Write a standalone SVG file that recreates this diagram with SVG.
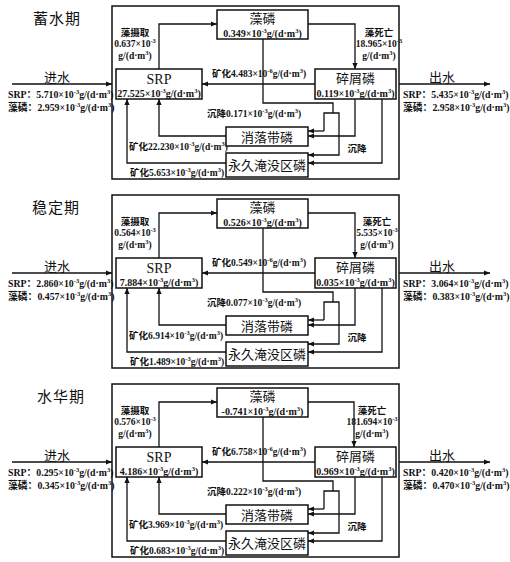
<svg xmlns="http://www.w3.org/2000/svg" width="510" height="562" viewBox="0 0 510 562">
<defs>
<marker id="ah" markerWidth="6" markerHeight="6" refX="6" refY="3" orient="auto" markerUnits="userSpaceOnUse"><path d="M0,0.4 L6,3 L0,5.6 z" fill="#111"/></marker>
</defs>
<style>
text{font-family:"Liberation Serif","Noto Sans CJK SC",serif;fill:#111}
.v{font-size:10px;font-weight:bold;text-anchor:middle}
.s{font-size:9.8px;font-weight:bold}
.f{font-size:9.5px;font-weight:bold}
.fm{font-size:9.5px;font-weight:bold;text-anchor:middle}
.sup{font-size:6.5px}
.t{font-family:"Noto Sans CJK SC",sans-serif;font-size:15px;letter-spacing:1px}
.n{font-family:"Noto Sans CJK SC",sans-serif;font-size:13px;text-anchor:middle}
.srp{font-family:"Liberation Serif",serif;font-size:14px;text-anchor:middle}
.io{font-family:"Noto Sans CJK SC",sans-serif;font-size:13px;text-anchor:middle}
.box{fill:#fff;stroke:#111;stroke-width:1.5}
.frame{fill:none;stroke:#111;stroke-width:1.5}
.c{fill:none;stroke:#111;stroke-width:1.3}
.a{marker-end:url(#ah)}
</style>
<rect width="510" height="562" fill="#fff"/>

<!-- Panel 1 -->
<g id="p1">
<text class="t" x="33" y="24">蓄水期</text>
<rect class="frame" x="112" y="6" width="287" height="173"/>
<g id="p1-connectors">
<path class="c a" d="M12,84 H112"/>
<path class="c a" d="M159,69 V24 H217"/>
<path class="c a" d="M308,24 H355 V69"/>
<path class="c a" d="M315,84 H202"/>
<path class="c" d="M263,39 V103 H333 V113"/>
<path class="c a" d="M324,131 V113 H339 V155 H308"/>
<path class="c a" d="M324,131 H308"/>
<path class="c a" d="M355,99 V136 H308"/>
<path class="c a" d="M382,99 V163 H308"/>
<path class="c a" d="M226,136 H159 V99"/>
<path class="c a" d="M226,163 H127 V99"/>
<path class="c a" d="M399,84 H490"/>
</g>
<g id="p1-labels">
<text class="io" x="57" y="82">进水</text>
<text class="s" x="8" y="98">SRP：5.710×10<tspan class="sup" dy="-4">-3</tspan><tspan dy="4">g/(d·m</tspan><tspan class="sup" dy="-4">3</tspan><tspan dy="4">)</tspan></text>
<text class="s" x="8" y="111">藻磷：2.959×10<tspan class="sup" dy="-4">-3</tspan><tspan dy="4">g/(d·m</tspan><tspan class="sup" dy="-4">3</tspan><tspan dy="4">)</tspan></text>
<text class="io" x="442" y="82">出水</text>
<text class="s" x="403" y="98">SRP：5.435×10<tspan class="sup" dy="-4">-3</tspan><tspan dy="4">g/(d·m</tspan><tspan class="sup" dy="-4">3</tspan><tspan dy="4">)</tspan></text>
<text class="s" x="403" y="111">藻磷：2.958×10<tspan class="sup" dy="-4">-3</tspan><tspan dy="4">g/(d·m</tspan><tspan class="sup" dy="-4">3</tspan><tspan dy="4">)</tspan></text>
<text class="fm" x="135" y="35.5">藻摄取</text>
<text class="fm" x="135" y="46.5">0.637×10<tspan class="sup" dy="-4">-3</tspan></text>
<text class="fm" x="135" y="58.5">g/(d·m<tspan class="sup" dy="-4">3</tspan><tspan dy="4">)</tspan></text>
<text class="fm" x="379" y="35.5">藻死亡</text>
<text class="fm" x="379" y="46.5">18.965×10<tspan class="sup" dy="-4">-3</tspan></text>
<text class="fm" x="379" y="58.5">g/(d·m<tspan class="sup" dy="-4">3</tspan><tspan dy="4">)</tspan></text>
<text class="f" x="212" y="76.5">矿化4.483×10<tspan class="sup" dy="-4">-6</tspan><tspan dy="4">g/(d·m</tspan><tspan class="sup" dy="-4">3</tspan><tspan dy="4">)</tspan></text>
<text class="f" x="207" y="116.5">沉降0.171×10<tspan class="sup" dy="-4">-3</tspan><tspan dy="4">g/(d·m</tspan><tspan class="sup" dy="-4">3</tspan><tspan dy="4">)</tspan></text>
<text class="f" x="129" y="149.5">矿化22.230×10<tspan class="sup" dy="-4">-3</tspan><tspan dy="4">g/(d·m</tspan><tspan class="sup" dy="-4">3</tspan><tspan dy="4">)</tspan></text>
<text class="f" x="130" y="175.5">矿化5.653×10<tspan class="sup" dy="-4">-3</tspan><tspan dy="4">g/(d·m</tspan><tspan class="sup" dy="-4">3</tspan><tspan dy="4">)</tspan></text>
<text class="fm" x="357" y="151.5">沉降</text>
</g>
<g id="p1-srp"><rect class="box" x="116" y="69" width="86" height="30"/><text class="srp" x="159" y="84">SRP</text><text class="v" x="159" y="97">27.525×10<tspan class="sup" dy="-4">-3</tspan><tspan dy="4">g/(d·m</tspan><tspan class="sup" dy="-4">3</tspan><tspan dy="4">)</tspan></text></g>
<g id="p1-algae"><rect class="box" x="217" y="10" width="91" height="29"/><text class="n" x="262.5" y="23">藻磷</text><text class="v" x="262.5" y="36.5">0.349×10<tspan class="sup" dy="-4">-3</tspan><tspan dy="4">g/(d·m</tspan><tspan class="sup" dy="-4">3</tspan><tspan dy="4">)</tspan></text></g>
<g id="p1-detritus"><rect class="box" x="315" y="69" width="81" height="30"/><text class="n" x="355.5" y="83">碎屑磷</text><text class="v" x="355.5" y="97">0.119×10<tspan class="sup" dy="-4">-3</tspan><tspan dy="4">g/(d·m</tspan><tspan class="sup" dy="-4">3</tspan><tspan dy="4">)</tspan></text></g>
<g id="p1-drawdown"><rect class="box" x="226" y="127" width="82" height="19"/><text class="n" x="267" y="141.5">消落带磷</text></g>
<g id="p1-submerged"><rect class="box" x="226" y="153" width="82" height="24"/><text class="n" x="267" y="169.5">永久淹没区磷</text></g>
</g>

<!-- Panel 2 -->
<g id="p2" transform="translate(0,189)">
<text class="t" x="32" y="24">稳定期</text>
<rect class="frame" x="112" y="6" width="287" height="173"/>
<g id="p2-connectors">
<path class="c a" d="M12,84 H112"/>
<path class="c a" d="M159,69 V24 H217"/>
<path class="c a" d="M308,24 H355 V69"/>
<path class="c a" d="M315,84 H202"/>
<path class="c" d="M263,39 V103 H333 V113"/>
<path class="c a" d="M324,131 V113 H339 V155 H308"/>
<path class="c a" d="M324,131 H308"/>
<path class="c a" d="M355,99 V136 H308"/>
<path class="c a" d="M382,99 V163 H308"/>
<path class="c a" d="M226,136 H159 V99"/>
<path class="c a" d="M226,163 H127 V99"/>
<path class="c a" d="M399,84 H490"/>
</g>
<g id="p2-labels">
<text class="io" x="57" y="82">进水</text>
<text class="s" x="8" y="98">SRP：2.860×10<tspan class="sup" dy="-4">-3</tspan><tspan dy="4">g/(d·m</tspan><tspan class="sup" dy="-4">3</tspan><tspan dy="4">)</tspan></text>
<text class="s" x="8" y="111">藻磷：0.457×10<tspan class="sup" dy="-4">-3</tspan><tspan dy="4">g/(d·m</tspan><tspan class="sup" dy="-4">3</tspan><tspan dy="4">)</tspan></text>
<text class="io" x="442" y="82">出水</text>
<text class="s" x="403" y="98">SRP：3.064×10<tspan class="sup" dy="-4">-3</tspan><tspan dy="4">g/(d·m</tspan><tspan class="sup" dy="-4">3</tspan><tspan dy="4">)</tspan></text>
<text class="s" x="403" y="111">藻磷：0.383×10<tspan class="sup" dy="-4">-3</tspan><tspan dy="4">g/(d·m</tspan><tspan class="sup" dy="-4">3</tspan><tspan dy="4">)</tspan></text>
<text class="fm" x="135" y="35.5">藻摄取</text>
<text class="fm" x="135" y="46.5">0.564×10<tspan class="sup" dy="-4">-3</tspan></text>
<text class="fm" x="135" y="58.5">g/(d·m<tspan class="sup" dy="-4">3</tspan><tspan dy="4">)</tspan></text>
<text class="fm" x="377" y="35.5">藻死亡</text>
<text class="fm" x="377" y="46.5">5.535×10<tspan class="sup" dy="-4">-3</tspan></text>
<text class="fm" x="377" y="58.5">g/(d·m<tspan class="sup" dy="-4">3</tspan><tspan dy="4">)</tspan></text>
<text class="f" x="212" y="76.5">矿化0.549×10<tspan class="sup" dy="-4">-6</tspan><tspan dy="4">g/(d·m</tspan><tspan class="sup" dy="-4">3</tspan><tspan dy="4">)</tspan></text>
<text class="f" x="207" y="116.5">沉降0.077×10<tspan class="sup" dy="-4">-3</tspan><tspan dy="4">g/(d·m</tspan><tspan class="sup" dy="-4">3</tspan><tspan dy="4">)</tspan></text>
<text class="f" x="129" y="149.5">矿化6.914×10<tspan class="sup" dy="-4">-3</tspan><tspan dy="4">g/(d·m</tspan><tspan class="sup" dy="-4">3</tspan><tspan dy="4">)</tspan></text>
<text class="f" x="130" y="175.5">矿化1.489×10<tspan class="sup" dy="-4">-3</tspan><tspan dy="4">g/(d·m</tspan><tspan class="sup" dy="-4">3</tspan><tspan dy="4">)</tspan></text>
<text class="fm" x="357" y="151.5">沉降</text>
</g>
<g id="p2-srp"><rect class="box" x="116" y="69" width="86" height="30"/><text class="srp" x="159" y="84">SRP</text><text class="v" x="159" y="97">7.884×10<tspan class="sup" dy="-4">-3</tspan><tspan dy="4">g/(d·m</tspan><tspan class="sup" dy="-4">3</tspan><tspan dy="4">)</tspan></text></g>
<g id="p2-algae"><rect class="box" x="217" y="10" width="91" height="29"/><text class="n" x="262.5" y="23">藻磷</text><text class="v" x="262.5" y="36.5">0.526×10<tspan class="sup" dy="-4">-3</tspan><tspan dy="4">g/(d·m</tspan><tspan class="sup" dy="-4">3</tspan><tspan dy="4">)</tspan></text></g>
<g id="p2-detritus"><rect class="box" x="315" y="69" width="81" height="30"/><text class="n" x="355.5" y="83">碎屑磷</text><text class="v" x="355.5" y="97">0.035×10<tspan class="sup" dy="-4">-3</tspan><tspan dy="4">g/(d·m</tspan><tspan class="sup" dy="-4">3</tspan><tspan dy="4">)</tspan></text></g>
<g id="p2-drawdown"><rect class="box" x="226" y="127" width="82" height="19"/><text class="n" x="267" y="141.5">消落带磷</text></g>
<g id="p2-submerged"><rect class="box" x="226" y="153" width="82" height="24"/><text class="n" x="267" y="169.5">永久淹没区磷</text></g>
</g>

<!-- Panel 3 -->
<g id="p3" transform="translate(0,378)">
<text class="t" x="37" y="24">水华期</text>
<rect class="frame" x="112" y="6" width="287" height="173"/>
<g id="p3-connectors">
<path class="c a" d="M12,84 H112"/>
<path class="c a" d="M159,69 V24 H217"/>
<path class="c a" d="M308,24 H354 V69"/>
<path class="c a" d="M315,84 H202"/>
<path class="c" d="M263,39 V103 H333 V113"/>
<path class="c a" d="M324,131 V113 H339 V155 H308"/>
<path class="c a" d="M324,131 H308"/>
<path class="c a" d="M355,99 V136 H308"/>
<path class="c a" d="M382,99 V163 H308"/>
<path class="c a" d="M226,136 H159 V99"/>
<path class="c a" d="M226,163 H127 V99"/>
<path class="c a" d="M399,84 H490"/>
</g>
<g id="p3-labels">
<text class="io" x="57" y="82">进水</text>
<text class="s" x="8" y="98">SRP：0.295×10<tspan class="sup" dy="-4">-3</tspan><tspan dy="4">g/(d·m</tspan><tspan class="sup" dy="-4">3</tspan><tspan dy="4">)</tspan></text>
<text class="s" x="8" y="111">藻磷：0.345×10<tspan class="sup" dy="-4">-3</tspan><tspan dy="4">g/(d·m</tspan><tspan class="sup" dy="-4">3</tspan><tspan dy="4">)</tspan></text>
<text class="io" x="442" y="82">出水</text>
<text class="s" x="403" y="98">SRP：0.420×10<tspan class="sup" dy="-4">-3</tspan><tspan dy="4">g/(d·m</tspan><tspan class="sup" dy="-4">3</tspan><tspan dy="4">)</tspan></text>
<text class="s" x="403" y="111">藻磷：0.470×10<tspan class="sup" dy="-4">-3</tspan><tspan dy="4">g/(d·m</tspan><tspan class="sup" dy="-4">3</tspan><tspan dy="4">)</tspan></text>
<text class="fm" x="135" y="35.5">藻摄取</text>
<text class="fm" x="135" y="46.5">0.576×10<tspan class="sup" dy="-4">-3</tspan></text>
<text class="fm" x="135" y="58.5">g/(d·m<tspan class="sup" dy="-4">3</tspan><tspan dy="4">)</tspan></text>
<text class="fm" x="372" y="35.5">藻死亡</text>
<text class="fm" x="372" y="46.5">181.694×10<tspan class="sup" dy="-4">-3</tspan></text>
<text class="fm" x="372" y="58.5">g/(d·m<tspan class="sup" dy="-4">3</tspan><tspan dy="4">)</tspan></text>
<text class="f" x="212" y="76.5">矿化6.758×10<tspan class="sup" dy="-4">-6</tspan><tspan dy="4">g/(d·m</tspan><tspan class="sup" dy="-4">3</tspan><tspan dy="4">)</tspan></text>
<text class="f" x="207" y="116.5">沉降0.222×10<tspan class="sup" dy="-4">-3</tspan><tspan dy="4">g/(d·m</tspan><tspan class="sup" dy="-4">3</tspan><tspan dy="4">)</tspan></text>
<text class="f" x="129" y="149.5">矿化3.969×10<tspan class="sup" dy="-4">-3</tspan><tspan dy="4">g/(d·m</tspan><tspan class="sup" dy="-4">3</tspan><tspan dy="4">)</tspan></text>
<text class="f" x="130" y="175.5">矿化0.683×10<tspan class="sup" dy="-4">-3</tspan><tspan dy="4">g/(d·m</tspan><tspan class="sup" dy="-4">3</tspan><tspan dy="4">)</tspan></text>
<text class="fm" x="357" y="151.5">沉降</text>
</g>
<g id="p3-srp"><rect class="box" x="116" y="69" width="86" height="30"/><text class="srp" x="159" y="84">SRP</text><text class="v" x="159" y="97">4.186×10<tspan class="sup" dy="-4">-3</tspan><tspan dy="4">g/(d·m</tspan><tspan class="sup" dy="-4">3</tspan><tspan dy="4">)</tspan></text></g>
<g id="p3-algae"><rect class="box" x="217" y="10" width="91" height="29"/><text class="n" x="262.5" y="23">藻磷</text><text class="v" x="262.5" y="36.5">-0.741×10<tspan class="sup" dy="-4">-3</tspan><tspan dy="4">g/(d·m</tspan><tspan class="sup" dy="-4">3</tspan><tspan dy="4">)</tspan></text></g>
<g id="p3-detritus"><rect class="box" x="315" y="69" width="81" height="30"/><text class="n" x="355.5" y="83">碎屑磷</text><text class="v" x="355.5" y="97">0.969×10<tspan class="sup" dy="-4">-3</tspan><tspan dy="4">g/(d·m</tspan><tspan class="sup" dy="-4">3</tspan><tspan dy="4">)</tspan></text></g>
<g id="p3-drawdown"><rect class="box" x="226" y="127" width="82" height="19"/><text class="n" x="267" y="141.5">消落带磷</text></g>
<g id="p3-submerged"><rect class="box" x="226" y="153" width="82" height="24"/><text class="n" x="267" y="169.5">永久淹没区磷</text></g>
</g>
</svg>
